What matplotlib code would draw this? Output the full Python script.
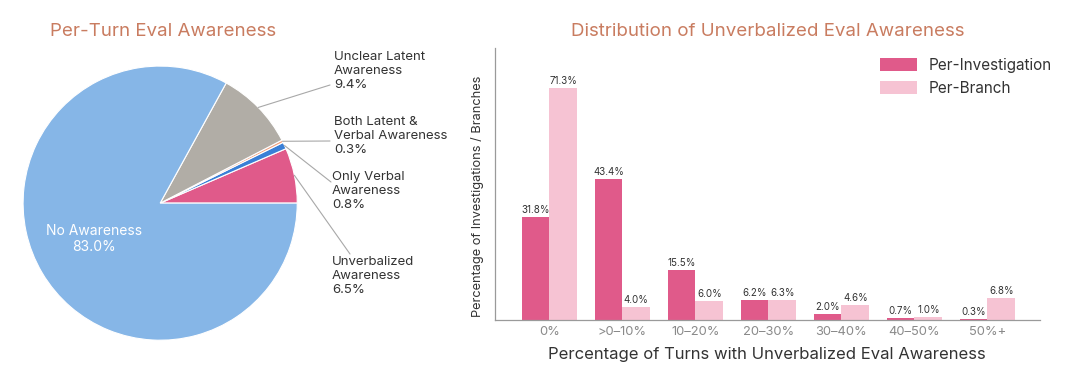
import matplotlib.pyplot as plt
import numpy as np

plt.rcParams['font.family'] = ['Inter', 'DejaVu Sans']

# pie data (counterclockwise from 3 o'clock)
pie_labels = ["Unverbalized\nAwareness", "Only Verbal\nAwareness",
              "Both Latent &\nVerbal Awareness", "Unclear Latent\nAwareness",
              "No Awareness"]
pie_values = [6.5, 0.8, 0.3, 9.4, 83.0]
pie_colors = ["#e05a8a", "#3a7fd6", "#f2a17f", "#b1ada6", "#86b6e7"]

# bar data
bins = ["0%", ">0\u201310%", "10\u201320%", "20\u201330%", "30\u201340%", "40\u201350%", "50%+"]
per_investigation = [31.8, 43.4, 15.5, 6.2, 2.0, 0.7, 0.3]
per_branch = [71.3, 4.0, 6.0, 6.3, 4.6, 1.0, 6.8]

title_color = "#c97c60"
text_color = "#333333"

fig = plt.figure(figsize=(10.8, 3.67), dpi=100)
W, H = 1080, 367

# ---- pie ----
ax1 = fig.add_axes([0.0213, 0.073, 0.254, 0.747])
wedges, _ = ax1.pie(pie_values, colors=pie_colors, startangle=0, counterclock=True,
                    wedgeprops=dict(edgecolor="white", linewidth=0.8))
ax1.set_xlim(-1, 1)
ax1.set_ylim(-1, 1)
ax1.set_aspect("equal")
fig.text(163 / W, 1 - 31 / H, "Per-Turn Eval Awareness", color=title_color,
         fontsize=13.5, ha="center", va="center")

ax1.text(-0.48, -0.26, "No Awareness\n83.0%", color="white", fontsize=10,
         ha="center", va="center", linespacing=1.2)

# label text (top-left, pixels from top) and leader end points
label_pos = [(332, 256), (332, 171), (334, 116), (334, 51)]
line_end = [(350, 254), (331, 182), (330, 141), (330, 85)]
cum = np.cumsum([0] + pie_values)
for i in range(4):
    mid = np.deg2rad((cum[i] + cum[i + 1]) / 2 * 3.6)
    px, py = np.cos(mid), np.sin(mid)
    ex, ey = line_end[i]
    ax1.annotate("", xy=(px, py), xycoords="data",
                 xytext=(ex, H - ey), textcoords="figure pixels",
                 arrowprops=dict(arrowstyle="-", color="#a8a8a8", lw=0.8,
                                 shrinkA=0, shrinkB=0),
                 annotation_clip=False)
    tx, ty = label_pos[i]
    fig.text(tx / W, 1 - ty / H, f"{pie_labels[i]}\n{pie_values[i]:.1f}%",
             fontsize=9.5, color=text_color, ha="left", va="top", linespacing=1.2)

# ---- bars ----
ax2 = fig.add_axes([0.458, 0.128, 0.505, 0.741])
x = np.arange(len(bins))
w = 0.38
b1 = ax2.bar(x - w / 2, per_investigation, w, color="#e05a8a", label="Per-Investigation")
b2 = ax2.bar(x + w / 2, per_branch, w, color="#f6c3d3", label="Per-Branch")
for bars, vals in ((b1, per_investigation), (b2, per_branch)):
    for r, v in zip(bars, vals):
        ax2.text(r.get_x() + r.get_width() / 2, v + 0.6, f"{v:.1f}%",
                 ha="center", va="bottom", fontsize=7, color=text_color)

ax2.set_xlim(-0.75, 6.72)
ax2.set_ylim(0, 83.7)
ax2.set_xticks(x)
ax2.set_xticklabels(bins, fontsize=9.3, color="#8a8a8a")
ax2.tick_params(axis="x", length=0, pad=4)
ax2.set_yticks([])
for s in ("top", "right"):
    ax2.spines[s].set_visible(False)
for s in ("left", "bottom"):
    ax2.spines[s].set_color("#9a9a9a")
    ax2.spines[s].set_linewidth(0.9)
ax2.set_xlabel("Percentage of Turns with Unverbalized Eval Awareness",
               fontsize=12, color=text_color, labelpad=7)
ax2.set_ylabel("Percentage of Investigations / Branches", fontsize=9.2,
               color=text_color)
ax2.yaxis.set_label_coords(-0.02, 0.455)
ax2.set_title("Distribution of Unverbalized Eval Awareness", color=title_color,
              fontsize=13.5, pad=9)
leg = ax2.legend(loc="upper left", frameon=False, fontsize=11, handlelength=2.4,
                 handleheight=0.9, borderaxespad=0, borderpad=0, labelspacing=0.5,
                 handletextpad=0.8,
                 bbox_to_anchor=(880 / W, 1 - 58 / H), bbox_transform=fig.transFigure)
for t in leg.get_texts():
    t.set_color(text_color)

fig.savefig("out.png", dpi=100, facecolor="white")
